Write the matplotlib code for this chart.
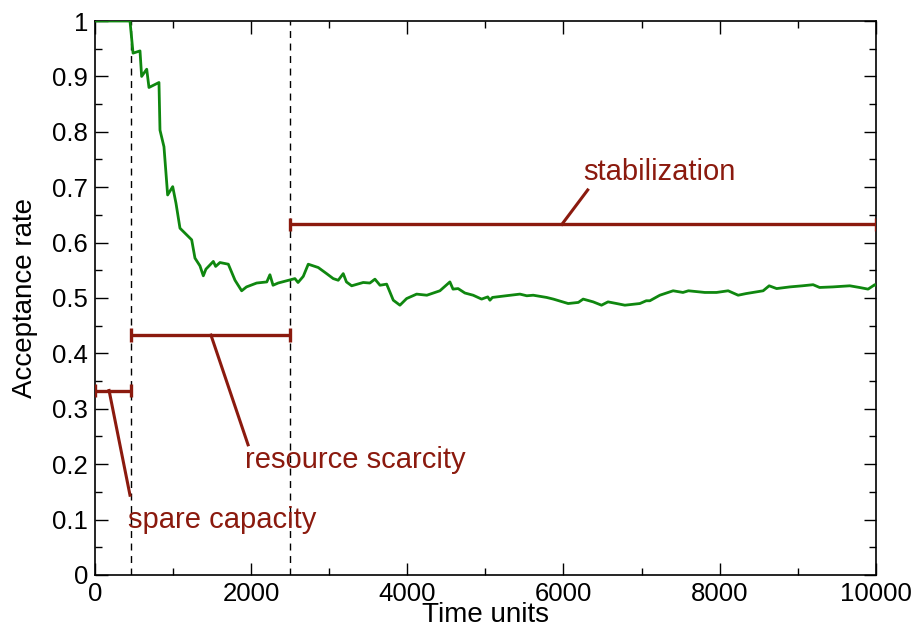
import matplotlib
matplotlib.use("Agg")
import matplotlib.pyplot as plt
from matplotlib.ticker import MultipleLocator
from matplotlib import font_manager

# ---- data ----
time = [0, 448, 487, 576, 597, 662, 691, 819, 832, 883, 930, 995, 1037, 1088, 1238,
        1280, 1344, 1387, 1420, 1515, 1545, 1600, 1707, 1793, 1878, 1940, 2070, 2200,
        2240, 2280, 2345, 2560, 2600, 2667, 2731, 2859, 2966, 3051, 3115, 3179, 3220,
        3287, 3435, 3520, 3585, 3650, 3735, 3820, 3905, 3991, 4119, 4250, 4417, 4545,
        4585, 4650, 4737, 4843, 4951, 5030, 5058, 5090, 5263, 5442, 5530, 5612, 5783,
        5870, 6060, 6190, 6252, 6380, 6487, 6570, 6680, 6786, 6978, 7060, 7106, 7234,
        7404, 7530, 7600, 7810, 7960, 8109, 8237, 8340, 8557, 8634, 8730, 8899, 9060,
        9197, 9280, 9450, 9667, 9790, 9901, 9987, 10000]
acceptance = [1.0, 1.0, 0.942, 0.946, 0.900, 0.913, 0.880, 0.889, 0.803, 0.773, 0.686,
              0.701, 0.671, 0.626, 0.605, 0.572, 0.558, 0.540, 0.552, 0.566, 0.557,
              0.564, 0.561, 0.532, 0.513, 0.520, 0.527, 0.529, 0.542, 0.523, 0.527,
              0.535, 0.528, 0.539, 0.561, 0.555, 0.544, 0.535, 0.532, 0.544, 0.529,
              0.522, 0.528, 0.527, 0.534, 0.523, 0.525, 0.496, 0.487, 0.499, 0.507,
              0.505, 0.513, 0.529, 0.516, 0.517, 0.509, 0.505, 0.498, 0.502, 0.496,
              0.501, 0.504, 0.507, 0.504, 0.505, 0.501, 0.498, 0.490, 0.492, 0.498,
              0.493, 0.487, 0.493, 0.490, 0.487, 0.490, 0.495, 0.495, 0.505, 0.513,
              0.510, 0.513, 0.510, 0.510, 0.513, 0.505, 0.508, 0.513, 0.522, 0.517,
              0.520, 0.522, 0.524, 0.519, 0.520, 0.522, 0.519, 0.516, 0.524, 0.523]

phase_labels = ["spare capacity", "resource scarcity", "stabilization"]
phase_start = [0, 460, 2500]
phase_end = [460, 2500, 10000]
phase_level = [0.333, 0.433, 0.633]
pointer_from_x = [180, 1485, 5980]
pointer_to = [(448, 0.144), (1960, 0.235), (6310, 0.695)]
label_pos = [(1625, 0.099), (3330, 0.208), (7235, 0.727)]
dashed_x = [460, 2500]

# ---- fonts ----
avail = {f.name for f in font_manager.fontManager.ttflist}
fam = ["Liberation Sans Narrow", "Liberation Sans", "DejaVu Sans"]
fam = [f for f in fam if f in avail] or ["DejaVu Sans"]
plt.rcParams['font.family'] = fam

red = "#8b1a0e"
green = "#0f870f"

fig = plt.figure(figsize=(9.19, 6.29), dpi=100)
ax = fig.add_axes([0.1034, 0.0859, 0.953 - 0.1034, 0.9666 - 0.0859])

ax.plot(time, acceptance, color=green, lw=2.0, zorder=3)

for xv in dashed_x:
    ax.axvline(xv, color="black", lw=1.0, ls=(0, (5, 4)), zorder=2)

for lab, s, e, lvl, pfx, pt, lp in zip(phase_labels, phase_start, phase_end, phase_level,
                                       pointer_from_x, pointer_to, label_pos):
    ax.plot([s, e], [lvl, lvl], color=red, lw=2.4, zorder=4, solid_capstyle="butt")
    for xe in (s, e):
        ax.plot([xe, xe], [lvl - 0.012, lvl + 0.012], color=red, lw=2.4, zorder=4,
                solid_capstyle="butt")
    ax.plot([pfx, pt[0]], [lvl, pt[1]], color=red, lw=2.2, zorder=4)
    ax.text(lp[0], lp[1], lab, color=red, fontsize=21, ha="center", va="center", zorder=5)

ax.set_xlim(0, 10000)
ax.set_ylim(0, 1)
ax.xaxis.set_major_locator(MultipleLocator(2000))
ax.xaxis.set_minor_locator(MultipleLocator(1000))
ax.yaxis.set_major_locator(MultipleLocator(0.1))
ax.yaxis.set_minor_locator(MultipleLocator(0.05))
ax.set_yticklabels([("%g" % v) for v in ax.get_yticks()])
ax.tick_params(which="both", direction="in", top=True, right=True, labelsize=18.5, width=1)
ax.tick_params(which="major", length=9, pad=5)
ax.tick_params(which="minor", length=5)
for sp in ax.spines.values():
    sp.set_linewidth(1.2)

ax.set_xlabel("Time units", fontsize=20, labelpad=-3)
ax.set_ylabel("Acceptance rate", fontsize=20, labelpad=10)

fig.savefig("out.png", dpi=100)
